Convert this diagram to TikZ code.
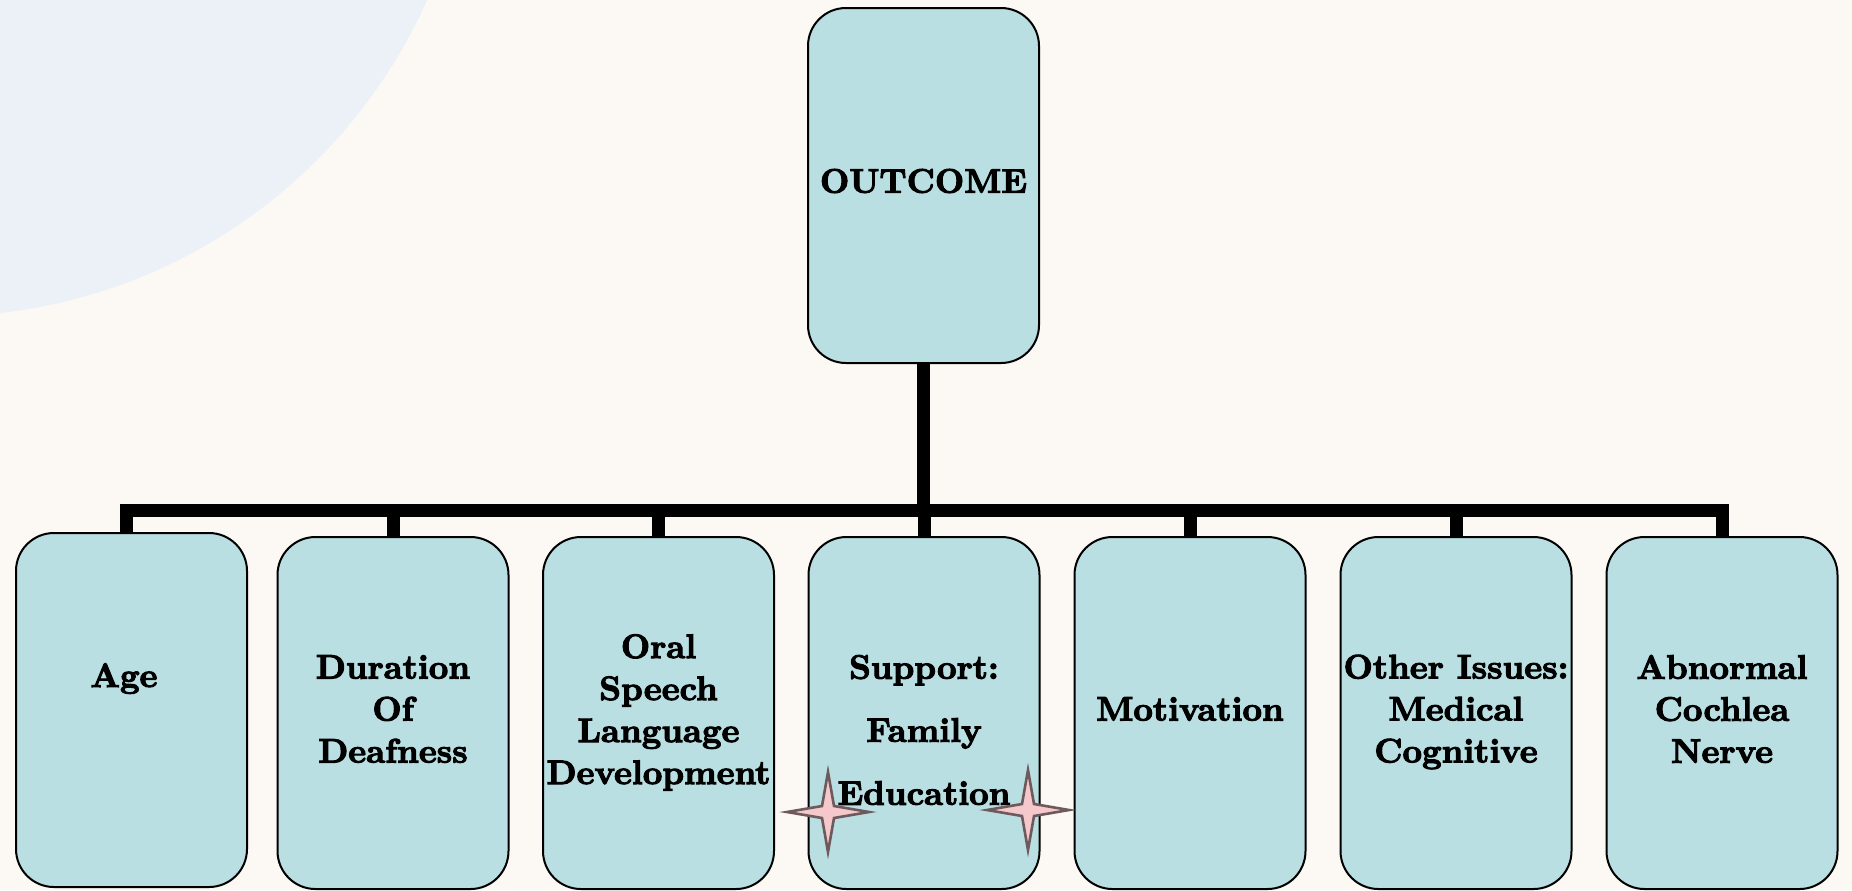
\documentclass[tikz,border=0pt]{standalone}
\usepackage{fontspec}
\newfontfamily\heavyfont{lmroman10-bold.otf}[FakeBold=3]
\definecolor{bgc}{HTML}{FCF9F4}
\definecolor{circc}{HTML}{ECF0F7}
\definecolor{boxfill}{HTML}{B9DFE3}
\definecolor{starfill}{HTML}{F5C8CB}
\definecolor{starline}{HTML}{6E5A5C}
\tikzset{
  boxnode/.style={draw=black, line width=1pt, fill=boxfill, rounded corners=19pt,
    minimum width=115.5pt, minimum height=176pt, inner sep=0pt,
    font=\fontsize{17}{21}\selectfont\heavyfont, align=center},
  txt/.style={inner sep=0pt, font=\fontsize{17}{21}\selectfont\heavyfont, align=center},
  conn/.style={draw=black, line width=6.5pt, line join=miter},
  sparkleline/.style={fill=starfill, draw=starline, line width=1.3pt, line join=miter},
  sparkle/.pic={\path[sparkleline] (41,0) -- (6,-6) -- (0,-40) -- (-6,-6) -- (-41,0) -- (-6,6) -- (0,40) -- (6,6) -- cycle;}
}
\begin{document}
\begin{tikzpicture}[x=0.5pt,y=-0.5pt]
\useasboundingbox (0,0) rectangle (1852,890);
\clip (0,0) rectangle (1852,890);
\fill[bgc] (0,0) rectangle (1852,890);
\fill[circc] (-60.5,-217.3) circle [radius=266.85pt];

% boxes
\node[boxnode, minimum height=177.5pt] (outcome) at (923.5,185.5) {};
\node[txt] (outcometext) at (923.5,181) {OUTCOME};
\node[boxnode, minimum height=177pt] (age) at (131.5,710) {};
\node[txt, anchor=base] (agetext) at (124,687) {Age};
\node[boxnode] (dur) at (393,713) {};
\node[txt] (durtext) at (393,709) {Duration\\Of\\Deafness};
\node[boxnode] (oral) at (658.5,713) {};
\node[txt] (oraltext) at (658.5,712.5) {Oral\\Speech\\Language\\Development};
\node[boxnode] (supp) at (924,713) {};
\node[txt] (supptext) at (924,730) {Support:\\[10.5pt]Family\\[10.5pt]Education};
\node[boxnode] (motiv) at (1190,713) {};
\node[txt] (motivtext) at (1190,709) {Motivation};
\node[boxnode] (other) at (1456,713) {};
\node[txt] (othertext) at (1456,712) {Other Issues:\\Medical\\Cognitive};
\node[boxnode] (abn) at (1722,713) {};
\node[txt] (abntext) at (1722,709) {Abnormal\\Cochlea\\Nerve};

% connectors
\coordinate (bar) at (0,510.5);
\draw[conn] (outcome.south) -- (outcome.south |- bar);
\draw[conn] ([xshift=-2.5pt]age.north) |- (bar -| abn.north) -- (abn.north);
\foreach \n in {dur,oral,supp,motiv,other}{
  \draw[conn] (bar -| \n.north) -- (\n.north);
}

% sparkles
\pic at (828,812) {sparkle};
\pic at (1028,810) {sparkle};
\end{tikzpicture}
\end{document}
